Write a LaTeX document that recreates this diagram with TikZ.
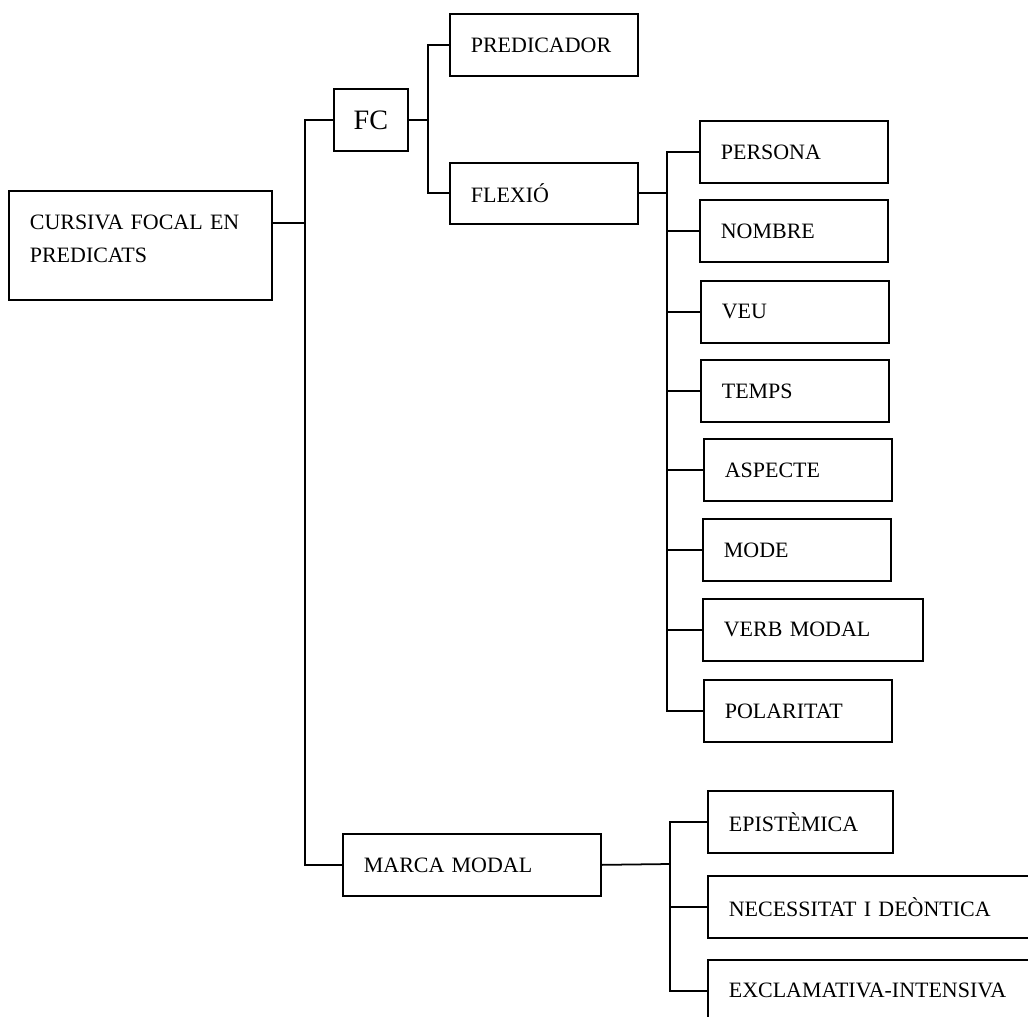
\documentclass[tikz,border=0pt]{standalone}
\usepackage{fontspec}
\setmainfont{Liberation Serif}
\usetikzlibrary{positioning,calc}
\tikzset{catbox/.style={draw,line width=1pt,anchor=north west,align=left,
 inner xsep=0.42cm,inner ysep=0pt,minimum height=1.24cm,text width=#1,
 font=\fontsize{12.5}{18.8}\selectfont},
 catbox/.default=2.92cm,
 branch/.style={draw,line width=1pt}}

\begin{document}
\begin{tikzpicture}[x=0.02cm,y=-0.02cm]
\useasboundingbox (0,0) rectangle (1028,1017);
\clip (0,0) rectangle (1028,1017);
% left side
\node[catbox=4.42cm,minimum height=2.18cm] (root) at (8,190) {CURSIVA FOCAL EN\\PREDICATS\rule[-8pt]{0pt}{8pt}};
\node[draw,line width=1pt,anchor=north west,minimum width=1.48cm,minimum height=1.24cm,inner sep=0pt,font=\fontsize{16}{19}\selectfont] (fc) at (333,88) {FC};
\node[catbox] (pred) at (449,13) {PREDICADOR};
\node[catbox,minimum height=1.22cm] (flex) at (449,162) {FLEXIÓ};
\node[catbox=4.32cm] (marca) at (342,833) {MARCA MODAL};
% flexio
\node[catbox] (persona) at (699,120) {PERSONA};
\node[catbox] (nombre) at (699,199) {NOMBRE};
\node[catbox] (veu) at (700,280) {VEU};
\node[catbox] (temps) at (700,359) {TEMPS};
\node[catbox] (aspecte) at (703,438) {ASPECTE};
\node[catbox] (mode) at (702,518) {MODE};
\node[catbox=3.56cm] (verb) at (702,598) {VERB MODAL};
\node[catbox] (polar) at (703,679) {POLARITAT};
% modal
\node[catbox=2.86cm] (epist) at (707,790) {EPISTÈMICA};
\node[catbox=6.2cm] (neces) at (707,875) {NECESSITAT I DEÒNTICA};
\node[catbox=6.2cm] (excl) at (707,959) {EXCLAMATIVA-INTENSIVA};
% connectors
\coordinate (rj) at (305,223);
\coordinate (fj) at (428,117);
\coordinate (xj) at (667,192);
\coordinate (mj) at (670,864);
\draw[branch] (root.east |- rj) -- (rj);
\draw[branch] (fc.west) -| (rj) |- (marca.west);
\draw[branch] (fc.east) -- (fc.east -| fj);
\draw[branch] (pred.west) -| (fj) |- (flex.west);
\draw[branch] (flex.east) -- (flex.east -| xj);
\draw[branch] (persona.west) -| (xj) |- (polar.west);
\foreach \n in {nombre,veu,temps,aspecte,mode,verb}
  \draw[branch] (\n.west) -- (\n.west -| xj);
\draw[branch] (marca.east) -- (mj);
\draw[branch] (epist.west) -| (mj) |- (excl.west);
\draw[branch] (neces.west) -- (neces.west -| mj);
\end{tikzpicture}
\end{document}
